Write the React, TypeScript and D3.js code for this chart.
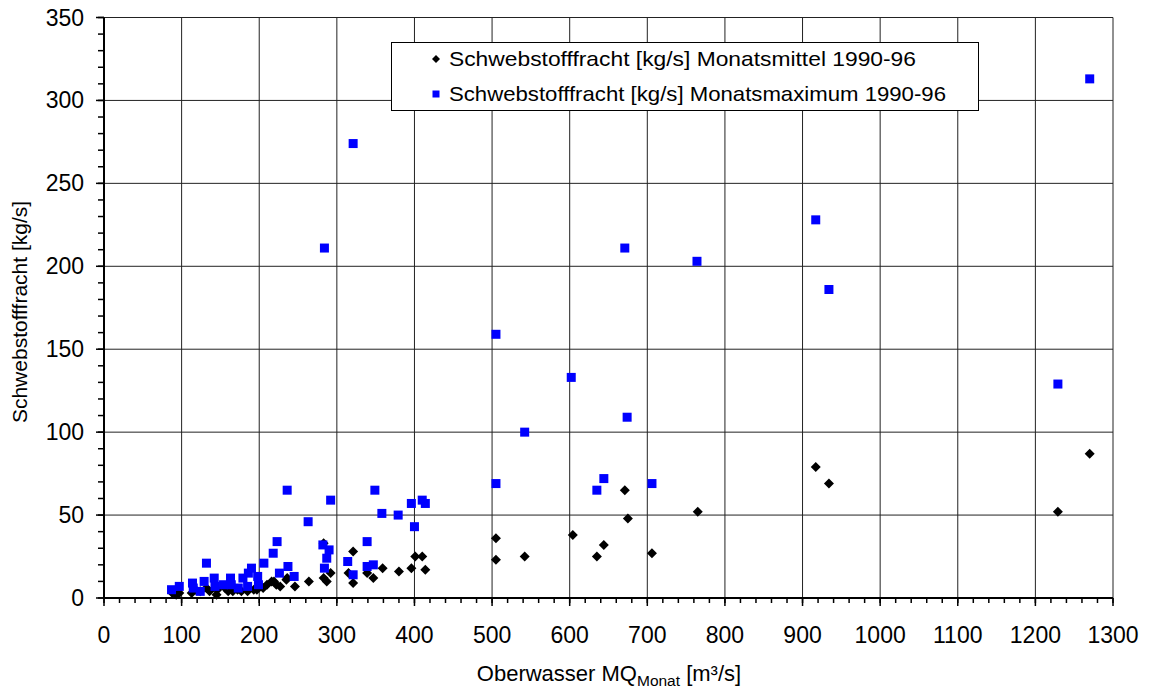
import React from "react";
import * as d3 from "d3";

// Oberwasser MQ (m³/s) and Schwebstofffracht (kg/s) – Monatsmittel 1990-96
const mittelQ = [88, 93, 97, 113, 118, 124, 132, 136, 145, 146, 156, 160, 166, 172, 177, 185, 186, 193, 197, 201, 205, 210, 216, 219, 222, 227, 235, 236, 246, 264, 283, 283, 287, 292, 315, 321, 321, 339, 347, 359, 380, 396, 401, 410, 414, 505, 505, 542, 604, 635, 644, 671, 675, 706, 765, 917, 934, 1229, 1270];
const mittelFracht = [3, 2, 3, 3, 5, 4, 6, 4, 2, 5, 6, 4, 4, 5, 4, 4, 6, 5, 5, 7, 6, 8, 10, 10, 8, 7, 11, 12, 7, 10, 33, 12, 10, 15, 15, 28, 9, 15, 12, 18, 16, 18, 25, 25, 17, 36, 23, 25, 38, 25, 32, 65, 48, 27, 52, 79, 69, 52, 87];

// Monatsmaximum 1990-96
const maxQ = [87, 97, 114, 115, 124, 129, 132, 142, 143, 154, 163, 164, 173, 179, 185, 186, 190, 198, 199, 206, 218, 223, 226, 237, 236, 245, 263, 282, 284, 284, 287, 290, 292, 314, 321, 321, 339, 339, 347, 349, 358, 379, 396, 400, 410, 414, 505, 505, 542, 602, 635, 644, 671, 674, 706, 764, 917, 934, 1229, 1270];
const maxFracht = [5, 7, 9, 6, 4, 10, 21, 12, 7, 8, 12, 8, 6, 12, 7, 15, 18, 13, 8, 21, 27, 34, 15, 19, 65, 13, 46, 32, 18, 211, 24, 29, 59, 22, 14, 274, 34, 19, 20, 65, 51, 50, 57, 43, 59, 57, 159, 69, 100, 133, 65, 72, 211, 109, 69, 203, 228, 186, 129, 313];

const xMajor = d3.range(0, 1301, 100);
const xMinor = d3.range(0, 1301, 20);
const yMajor = d3.range(0, 351, 50);
const yMinor = d3.range(0, 351, 10);

const legendLabels = [
  "Schwebstofffracht [kg/s] Monatsmittel 1990-96",
  "Schwebstofffracht [kg/s] Monatsmaximum 1990-96",
];

const W = 1150;
const H = 689;
const FONT = "'Liberation Sans', Arial, sans-serif";

export default function App() {
  const x = d3.scaleLinear().domain([0, 1300]).range([104, 1113]);
  const y = d3.scaleLinear().domain([0, 350]).range([598, 17.5]);
  const diamond = (cx: number, cy: number, r: number) =>
    `M${cx},${cy - r}L${cx + r},${cy}L${cx},${cy + r}L${cx - r},${cy}Z`;

  return (
    <svg
      width={W}
      height={H}
      style={{ position: "absolute", left: 0, top: 0, background: "#fff" }}
      fontFamily={FONT}
    >
      <rect x={0} y={0} width={W} height={H} fill="#fff" />
      {/* grid */}
      {xMajor.map((v) => (
        <line key={"gx" + v} x1={x(v)} x2={x(v)} y1={y(0)} y2={y(350)} stroke="#222" strokeWidth={1} />
      ))}
      {yMajor.map((v) => (
        <line key={"gy" + v} x1={x(0)} x2={x(1300)} y1={y(v)} y2={y(v)} stroke="#222" strokeWidth={1} />
      ))}
      {/* minor ticks */}
      {xMinor.map((v) => (
        <line key={"mx" + v} x1={x(v)} x2={x(v)} y1={y(0)} y2={y(0) + 5} stroke="#000" strokeWidth={1.5} />
      ))}
      {xMajor.map((v) => (
        <line key={"Mx" + v} x1={x(v)} x2={x(v)} y1={y(0)} y2={y(0) + 8} stroke="#000" strokeWidth={1.5} />
      ))}
      {yMinor.map((v) => (
        <line key={"my" + v} x1={x(0) - 6} x2={x(0)} y1={y(v)} y2={y(v)} stroke="#000" strokeWidth={1.5} />
      ))}
      {yMajor.map((v) => (
        <line key={"My" + v} x1={x(0) - 8} x2={x(0)} y1={y(v)} y2={y(v)} stroke="#000" strokeWidth={1.5} />
      ))}
      {/* axes */}
      <line x1={x(0)} x2={x(0)} y1={y(0) + 1} y2={y(350)} stroke="#000" strokeWidth={2} />
      <line x1={x(0) - 1} x2={x(1300)} y1={y(0)} y2={y(0)} stroke="#000" strokeWidth={2} />

      {/* tick labels */}
      {xMajor.map((v) => (
        <text key={"tx" + v} x={x(v)} y={643} textAnchor="middle" fontSize={23} fill="#000">
          {v}
        </text>
      ))}
      {yMajor.map((v) => (
        <text key={"ty" + v} x={84} y={y(v) + 8} textAnchor="end" fontSize={23} fill="#000">
          {v}
        </text>
      ))}

      {/* axis titles */}
      <text x={609} y={681} textAnchor="middle" fontSize={22} fill="#000">
        Oberwasser MQ
        <tspan fontSize={15.5} dy={5}>Monat</tspan>
        <tspan dy={-5}> [m³/s]</tspan>
      </text>
      <text
        transform={`translate(27,312) rotate(-90)`}
        textAnchor="middle"
        fontSize={21}
        fill="#000"
      >
        Schwebstofffracht [kg/s]
      </text>

      {/* data */}
      {mittelQ.map((q, i) => (
        <path key={"d" + i} d={diamond(x(q), y(mittelFracht[i]), 5)} fill="#000" />
      ))}
      {maxQ.map((q, i) => (
        <rect key={"s" + i} x={x(q) - 4.5} y={y(maxFracht[i]) - 4.5} width={9} height={9} fill="#0000FF" />
      ))}

      {/* legend */}
      <rect x={391.5} y={42.5} width={587} height={68} fill="#fff" stroke="#000" strokeWidth={1} />
      <path d={diamond(436, 59, 4)} fill="#000" />
      <rect x={432.5} y={90.5} width={7} height={7} fill="#0000FF" />
      <text x={449} y={66} fontSize={21} fill="#000" textLength={467} lengthAdjust="spacingAndGlyphs">
        {legendLabels[0]}
      </text>
      <text x={449} y={101} fontSize={21} fill="#000" textLength={497} lengthAdjust="spacingAndGlyphs">
        {legendLabels[1]}
      </text>
    </svg>
  );
}
